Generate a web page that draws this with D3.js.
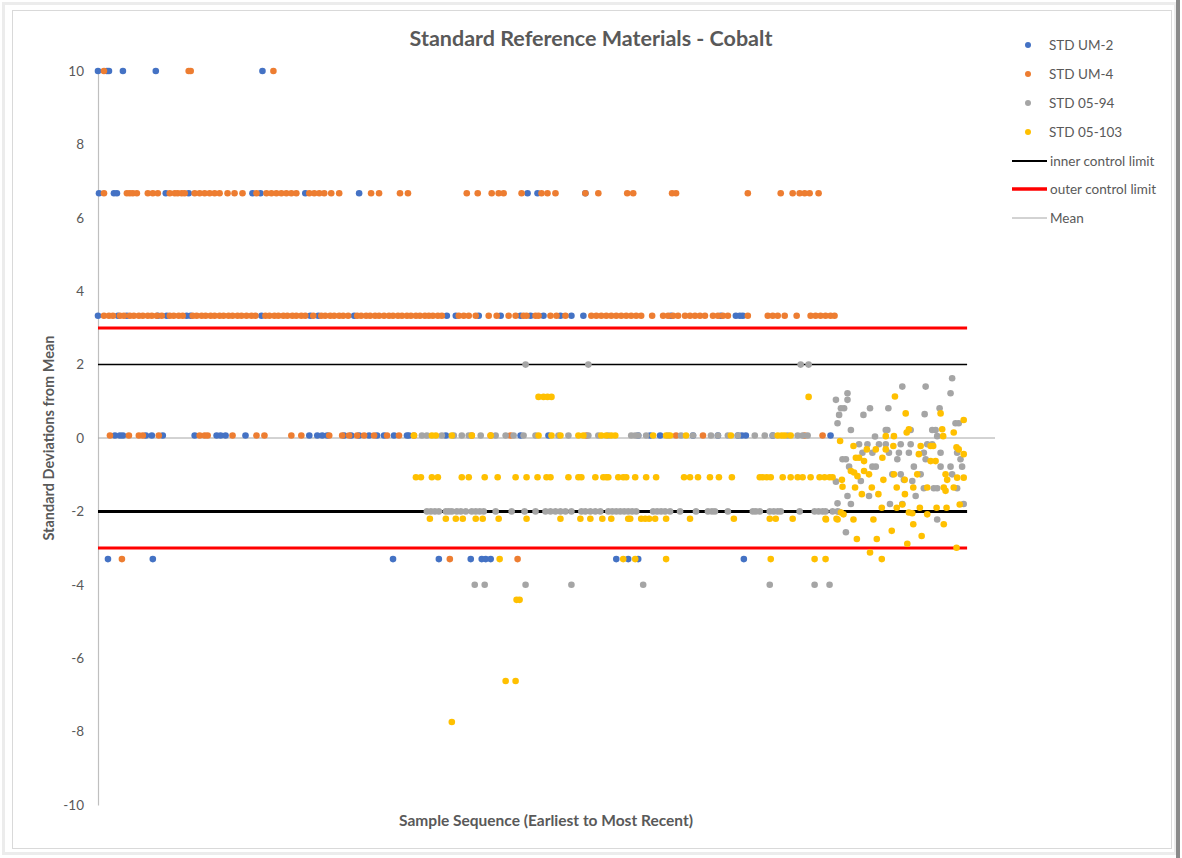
<!DOCTYPE html>
<html lang="en">
<head>
<meta charset="UTF-8">
<script src="https://cdn.jsdelivr.net/npm/d3@7.8.5/dist/d3.min.js"></script>
<title>Standard Reference Materials - Cobalt</title>
<style>
  body { margin: 0; background: #fff; }
  text { font-family: Lato, "Open Sans", sans-serif; fill: #595959; }
</style>
</head>
<body>
<svg id="chart" width="1182" height="858"></svg>
<script>
// series names / colours for the legend
var seriesNames = ["STD UM-2", "STD UM-4", "STD 05-94", "STD 05-103"];
var seriesColors = ["#4472C4", "#ED7D31", "#A5A5A5", "#FFC000"];
var yTicks = [10, 8, 6, 4, 2, 0, -2, -4, -6, -8, -10];

// control lines
var innerLimits = [2, -2];
var outerLimits = [3, -3];
var meanValue = 0;

// each row = [std deviations, [sample sequence numbers]]
var um2Rows = [
  [10, [0, 4.5, 5.5, 12.5, 29, 82.5]],
  [6.67, [0.5, 8, 9.5, 34, 45.5, 77.5, 81.5, 104, 131, 215.5, 220.5, 244.5]],
  [3.33, [0, 10, 14.5, 30, 34.5, 44.5, 46.5, 82, 106.5, 110.5, 128.5, 175, 179.5, 191, 202, 212, 217, 223.5, 232, 237.5, 243.5, 287.5, 312.5, 320, 322, 323.5]],
  [0.07, [8.5, 11, 12.5, 24, 27, 32.5, 48.5, 59.5, 61.5, 64, 74, 106, 110, 112.5, 115, 123.5, 127, 131, 136, 140, 143.5, 148.5, 155, 156, 174.5, 212, 226, 271, 277, 282, 298.5, 311, 321, 323, 325, 338.5, 367.5]],
  [-3.3, [5, 27.5, 148, 171, 187, 192.5, 194.5, 197, 260, 266, 271, 324]]
];

var um4Rows = [
  [10, [3, 45.5, 46.5, 88]],
  [6.67, [3, 14.5, 16, 17.5, 19.5, 25, 27.5, 30, 36, 38.5, 40, 42, 43.5, 48.5, 51, 53.5, 56, 58.5, 61, 65, 68.5, 72.5, 79.5, 84.5, 87, 89.5, 92, 94.5, 97, 99.5, 106, 108.5, 111, 113.5, 117, 121, 137, 141, 151.5, 155.5, 185, 190.5, 197.5, 201, 203.5, 212.5, 222.5, 225.5, 229.5, 244.5, 251, 265.5, 268.5, 288, 290, 326, 342.5, 348.5, 352, 354.5, 357, 361.5]],
  [3.33, [3, 5.5, 7.5, 11, 13, 16, 18, 20.5, 22.5, 25, 27, 29.5, 32, 36, 38, 40.5, 42.5, 47.5, 49.5, 52, 54, 56.5, 58.5, 61, 63, 65.5, 67.5, 70, 72, 74.5, 77, 79, 84, 86, 88.5, 90.5, 93, 95, 97.5, 99.5, 102, 104, 108, 112, 114, 116.5, 118.5, 121, 123, 125.5, 130, 132, 134.5, 136.5, 139, 141, 143.5, 146, 148, 150.5, 152.5, 155, 157, 159.5, 161.5, 164, 166, 168, 170.5, 172.5, 181, 183.5, 186, 189.5, 196, 200, 206, 209.5, 213.5, 215, 219.5, 221, 227, 230, 234.5, 247.5, 250, 252.5, 255, 257.5, 260, 262.5, 265, 267.5, 270, 272.5, 278, 283.5, 286, 288.5, 291, 294.5, 297, 299.5, 302, 304.5, 308.5, 311, 313.5, 316, 326, 336, 338.5, 341, 344.5, 350.5, 357.5, 360, 362.5, 365, 367.5, 369.5]],
  [0.07, [6, 15.5, 20.5, 22.5, 30.5, 51, 53.5, 55, 67.5, 79.5, 83.5, 97, 102, 116, 122.5, 126, 130, 133.5, 138.5, 145, 151, 158.5, 187.5, 197, 207, 245, 290, 303.5, 354.5, 363.5]],
  [-3.3, [12, 176.5, 210.5]]
];

var std94Rows = [
  [2, [214.5, 246, 352.5, 356.5]],
  [0.07, [162.5, 165, 172.5, 178.5, 182.5, 186, 192, 199.5, 204.5, 208.5, 213.5, 219.5, 231, 236, 246, 251, 256, 267.5, 269.5, 271, 275, 286, 292.5, 298.5, 307.5, 311, 316, 321, 329.5, 334.5, 338.5, 346, 351, 353.5, 356]],
  [-2, [165, 167, 169, 171, 174.5, 176, 177.5, 180, 182, 184.5, 187.5, 189.5, 191.5, 193.5, 199.5, 207.5, 214, 219.5, 224.5, 227, 229.5, 232, 234.5, 237.5, 242.5, 244.5, 247, 249.5, 252, 256, 258, 260, 262, 264, 266, 268, 270, 278.5, 280.5, 282.5, 284.5, 287, 292, 300, 306, 308, 309.5, 316, 328.5, 330, 332, 337, 339, 341, 342.5, 352, 359.5, 361.5, 363.5, 365, 368.5, 371]],
  [-4, [189, 194, 214.5, 237.5, 273.5, 337, 359.5, 367]]
];
// recent, scattered results [sequence, std deviations]
var std94Scatter = [
  [428.5, 1.63], [427.7, 1.22], [415.2, 1.40], [403.5, 1.40], [376, 1.22], [376, 1.04], [370.2, 1.04],
  [374.3, 0.81], [372.7, 0.81], [371.8, 0.63], [371, 0.40], [387.3, 0.81], [384, 0.63], [396.5, 0.81],
  [422.2, 0.81], [414.7, 0.65], [431.8, 0.40], [430.2, 0.40], [377.7, 0.22], [396, 0.22], [395.2, 0.22],
  [407.7, 0.22], [418.5, 0.22], [420.2, 0.22], [421, 0.05], [389.8, 0.04], [381.8, -0.17], [386, -0.17],
  [391.8, -0.17], [395.2, -0.17], [402.7, -0.17], [407.7, -0.17], [416, -0.17], [418.5, -0.17],
  [383.5, -0.40], [388.5, -0.40], [396.8, -0.40], [401.8, -0.40], [406.8, -0.40], [414.3, -0.40],
  [422.7, -0.40], [431, -0.40], [373.5, -0.58], [375.2, -0.58], [401, -0.58], [415.2, -0.58],
  [432.7, -0.58], [376.8, -0.78], [388.5, -0.78], [390.2, -0.78], [409.3, -0.78], [422.7, -0.78],
  [427.7, -0.78], [433.5, -0.78], [402.7, -0.99], [412.7, -0.99], [398.5, -0.99], [428.5, -0.99],
  [370.2, -1.19], [382.7, -1.17], [404.3, -1.14], [408.5, -1.17], [414.3, -1.37], [419.3, -1.37],
  [421, -1.37], [431, -1.37], [376, -1.58], [386.8, -1.58], [410.2, -1.58], [371, -1.78], [377.7, -1.80],
  [397.3, -1.80], [403.5, -1.80], [434.3, -1.80], [371.8, -2.01], [421, -2.22], [375.2, -2.57]
];

var std103Rows = [
  [1.12, [221, 223.5, 225.5, 227.5, 356.5]],
  [0.07, [158.5, 167.5, 169.5, 177.5, 187.5, 197, 221, 227.5, 232, 241, 243.5, 252.5, 255, 257.5, 259.5, 278.5, 285, 287, 295, 317.5, 341, 343, 344.5, 347.5]],
  [-1.07, [159.5, 162, 167.5, 170.5, 182.5, 186, 194, 200.5, 209.5, 215, 220.5, 225, 227, 236, 241, 242.5, 249.5, 253.5, 255, 256, 261, 263.5, 265, 269.5, 275, 280, 294, 297, 301, 307, 311.5, 318, 332, 333.5, 335.5, 337.5, 343.5, 347.5, 351, 353.5, 357.5, 362, 364.5, 367, 368.5]],
  [-2.2, [166.5, 174.5, 179.5, 183, 189.5, 193, 201, 215, 232, 242, 247, 253, 257.5, 266, 267, 272.5, 274.5, 276.5, 279.5, 285, 297, 319, 337, 340, 348.5, 365, 370.5]],
  [-3.3, [201.5, 263.5, 269.5, 285, 337.5, 359.5, 365]],
  [-4.41, [210, 211.5]],
  [-6.62, [204.5, 209.5]],
  [-7.74, [177.5]]
];
var std103Scatter = [
  [399.8, 1.13], [405.2, 0.67], [422.7, 0.67], [434.3, 0.49], [429.3, 0.15], [405.7, 0.15], [406.8, 0.24],
  [423.5, 0.24], [424, 0.05], [372.3, -0.08], [395.2, 0.05], [399.3, 0.05], [379, -0.22], [385.7, -0.31],
  [390.2, -0.31], [399, -0.22], [395.2, -0.31], [417.7, -0.22], [412.7, -0.22], [419, -0.22], [430.7, -0.25],
  [431.8, -0.31], [434.3, -0.44], [411.8, -0.44], [380.2, -0.54], [381.8, -0.54], [384.3, -0.63],
  [393.5, -0.54], [417.7, -0.63], [420.2, -0.63], [377.7, -0.90], [379.3, -0.94], [384.3, -0.90],
  [386.8, -0.99], [381, -1.04], [399.3, -0.99], [411, -0.99], [425.2, -0.99], [373.2, -1.14], [394, -1.14],
  [404.7, -1.14], [426, -1.14], [431, -1.08], [434.3, -1.08], [373.5, -1.33], [379.8, -1.35], [388.2, -1.35],
  [400.7, -1.35], [409, -1.35], [416, -1.35], [424.3, -1.35], [429.3, -1.35], [383.2, -1.53], [391.5, -1.53],
  [404.8, -1.53], [425.2, -1.44], [393.2, -1.90], [400.7, -1.90], [403.5, -1.81], [412.3, -1.90],
  [420.7, -1.90], [425.7, -1.90], [432.3, -1.81], [372.7, -2.03], [374, -2.08], [406.8, -2.03],
  [408.5, -2.05], [416, -2.08], [365.2, -2.22], [371, -2.22], [379, -2.22], [389, -2.22], [409, -2.35],
  [424.3, -2.35], [398.2, -2.53], [413.2, -2.67], [380.7, -2.75], [390.7, -2.75], [406, -2.88],
  [387.3, -3.12], [393.2, -3.30], [430.7, -2.99]
];

function flatten(rows, extra) {
  var out = [];
  rows.forEach(function(r) {
    r[1].forEach(function(x) { out.push([x, r[0]]); });
  });
  return out.concat(extra || []);
}

var series = [
  flatten(um2Rows),
  flatten(um4Rows),
  flatten(std94Rows, std94Scatter),
  flatten(std103Rows, std103Scatter)
];

var svg = d3.select("#chart");

// frame like the copied excel chart
svg.append("rect").attr("x", 3.5).attr("y", 3.5).attr("width", 1172).attr("height", 850)
  .attr("fill", "none").attr("stroke", "#ececec").attr("stroke-width", 3);
svg.append("rect").attr("x", 12.5).attr("y", 10.5).attr("width", 1159).attr("height", 838)
  .attr("fill", "#fff").attr("stroke", "#d9d9d9");
svg.append("rect").attr("x", 1176).attr("y", 0).attr("width", 4).attr("height", 858).attr("fill", "#8a8a8a");

var x = d3.scaleLinear().domain([0, 450]).range([98, 995]);
var y = d3.scaleLinear().domain([-10, 10]).range([805, 71]);

// y axis (plain hyphen for negatives like excel)
var yAxis = svg.append("g").attr("transform", "translate(98,0)")
  .call(d3.axisLeft(y).tickValues(yTicks).tickSize(0).tickPadding(14)
    .tickFormat(function(d) { return String(d); }));
yAxis.select(".domain").attr("stroke", "#bfbfbf").attr("stroke-width", 1.2);
yAxis.selectAll("text").attr("font-size", 13.5).style("font-family", "Lato, sans-serif").attr("fill", "#595959");

// mean line
svg.append("line").attr("x1", x(0)).attr("x2", x(450)).attr("y1", y(meanValue)).attr("y2", y(meanValue))
  .attr("stroke", "#a6a6a6").attr("stroke-width", 1);
// inner control limits
svg.selectAll(".inner").data(innerLimits).enter().append("line")
  .attr("x1", x(0)).attr("x2", x(436)).attr("y1", function(d) { return y(d); }).attr("y2", function(d) { return y(d); })
  .attr("stroke", "#000").attr("stroke-width", function(d) { return d < 0 ? 3 : 1.5; });
// outer control limits
svg.selectAll(".outer").data(outerLimits).enter().append("line")
  .attr("x1", x(0)).attr("x2", x(436)).attr("y1", function(d) { return y(d); }).attr("y2", function(d) { return y(d); })
  .attr("stroke", "#ff0000").attr("stroke-width", 3);

// points
series.forEach(function(pts, i) {
  svg.append("g").selectAll("circle").data(pts).enter().append("circle")
    .attr("cx", function(d) { return x(d[0]); })
    .attr("cy", function(d) { return y(d[1]); })
    .attr("r", 3.3)
    .attr("fill", seriesColors[i]);
});

// titles
svg.append("text").attr("x", 591).attr("y", 46).attr("text-anchor", "middle")
  .attr("font-size", 21.5).attr("font-weight", "bold").text("Standard Reference Materials - Cobalt");
svg.append("text").attr("x", 546).attr("y", 826).attr("text-anchor", "middle")
  .attr("font-size", 15.5).attr("font-weight", "bold").text("Sample Sequence (Earliest to Most Recent)");
svg.append("text").attr("transform", "translate(54,438) rotate(-90)").attr("text-anchor", "middle")
  .attr("font-size", 14.5).attr("font-weight", "bold").text("Standard Deviations from Mean");

// legend
var legendY = [45, 74, 103, 132];
seriesNames.forEach(function(name, i) {
  svg.append("circle").attr("cx", 1028).attr("cy", legendY[i]).attr("r", 3).attr("fill", seriesColors[i]);
  svg.append("text").attr("x", 1049).attr("y", legendY[i] + 4.5).attr("font-size", 13.5).text(name);
});
var lineLegend = [
  ["inner control limit", "#000", 2, 161],
  ["outer control limit", "#ff0000", 3.5, 189],
  ["Mean", "#a6a6a6", 1, 218]
];
lineLegend.forEach(function(l) {
  svg.append("line").attr("x1", 1012).attr("x2", 1047).attr("y1", l[3]).attr("y2", l[3])
    .attr("stroke", l[1]).attr("stroke-width", l[2]);
  svg.append("text").attr("x", 1050).attr("y", l[3] + 4.5).attr("font-size", 13.5).text(l[0]);
});
</script>
</body>
</html>
